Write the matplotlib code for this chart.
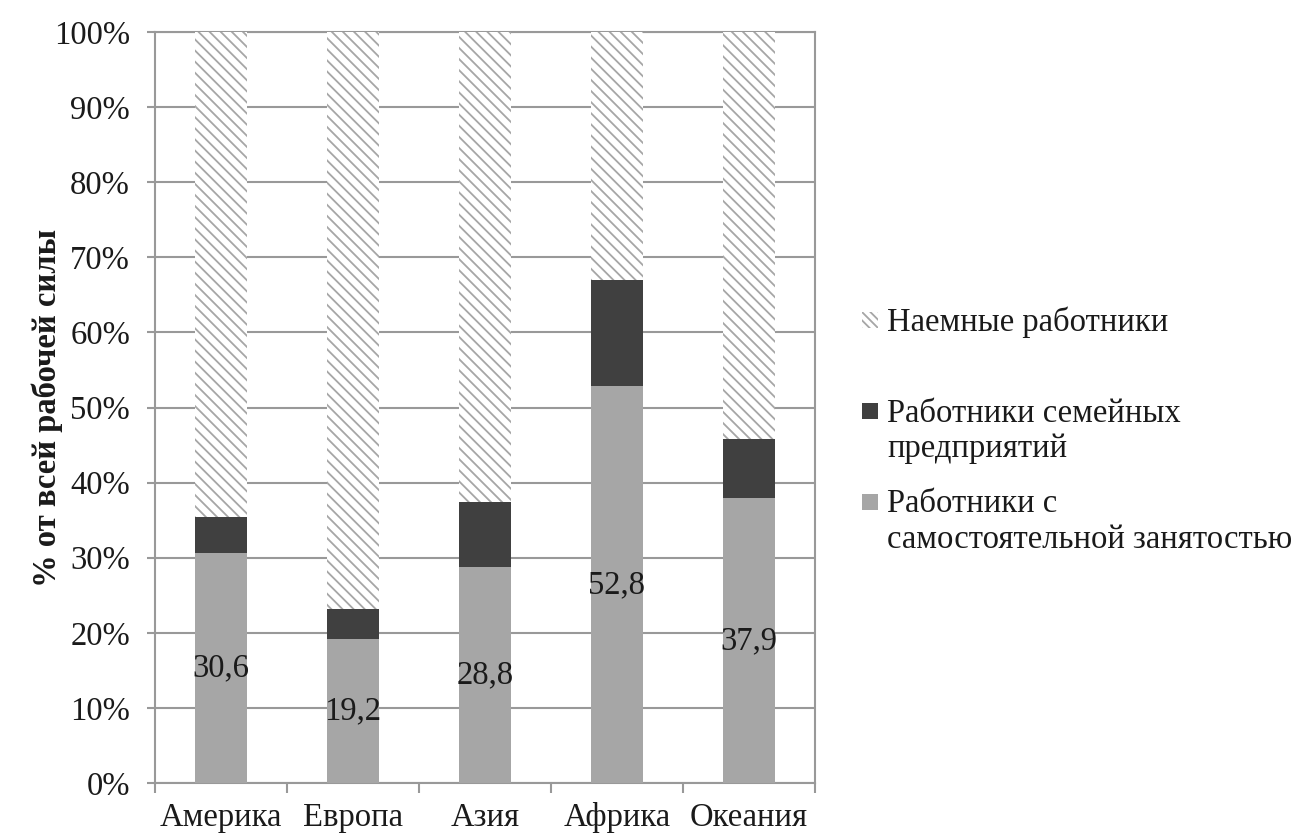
import numpy as np
import matplotlib
matplotlib.use("Agg")
import matplotlib.pyplot as plt
from matplotlib.patches import Rectangle

# Structure of employment by region, % of total labour force
regions = ['Америка', 'Европа', 'Азия', 'Африка', 'Океания']
self_employed = [30.6, 19.2, 28.8, 52.8, 37.9]
family_workers = [4.8, 4.0, 8.6, 14.2, 7.9]
employees = [100 - s - f for s, f in zip(self_employed, family_workers)]

series_names = ['Наемные работники',
                'Работники семейных\nпредприятий',
                'Работники с\nсамостоятельной занятостью']

plt.rcParams['font.family'] = ['Liberation Serif', 'DejaVu Serif']
plt.rcParams['hatch.linewidth'] = 1.3

FS = 23.5
c_self = '#a6a6a6'
c_family = '#404040'
c_hatch = '#a6a6a6'
c_axis = '#999999'
c_text = '#1a1a1a'

fig = plt.figure(figsize=(13.09, 8.39), dpi=100)
ax = fig.add_axes([155 / 1309, 1 - 783 / 839, 660 / 1309, 751 / 839])

x = np.arange(len(regions))
w = 0.39
ax.bar(x, self_employed, w, color=c_self, zorder=3)
ax.bar(x, family_workers, w, bottom=self_employed, color=c_family, zorder=3)
bottom3 = [s + f for s, f in zip(self_employed, family_workers)]
ax.bar(x, employees, w, bottom=bottom3, facecolor='white',
       edgecolor=c_hatch, linewidth=0, hatch='\\\\\\', zorder=3)

# value labels in the middle of the self-employed segment
for xi, v in zip(x, self_employed):
    ax.text(xi, v / 2, f'{v:.1f}'.replace('.', ','), ha='center', va='center',
            fontsize=FS, color=c_text, zorder=4)

ax.set_xlim(-0.5, len(regions) - 0.5)
ax.set_ylim(0, 100)
ax.set_yticks(np.arange(0, 101, 10))
ax.set_yticklabels([f'{t}%' for t in range(0, 101, 10)])
ax.set_xticks(x)
ax.set_xticklabels(regions)
ax.set_xticks(np.arange(-0.5, len(regions), 1), minor=True)

ax.tick_params(axis='y', length=6, width=1.5, color=c_axis, pad=12,
               labelsize=FS, labelcolor=c_text)
ax.tick_params(axis='x', which='major', length=0, pad=14,
               labelsize=FS, labelcolor=c_text)
ax.tick_params(axis='x', which='minor', length=7, width=1.5, color=c_axis)

ax.yaxis.grid(True, color=c_axis, linewidth=1.5, zorder=0)
ax.set_axisbelow(True)
for side in ['left', 'bottom', 'right', 'top']:
    ax.spines[side].set_color(c_axis)
    ax.spines[side].set_linewidth(1.5)

ax.set_ylabel('% от всей рабочей силы', fontsize=FS, fontweight='bold',
              color=c_text)
ax.yaxis.set_label_coords(-0.14, 0.5)

# legend drawn by hand so the swatches line up with the first text line
legend_rows = [
    (series_names[0], dict(facecolor='white', edgecolor=c_hatch, linewidth=0,
                           hatch='\\\\\\\\'), 320),
    (series_names[1], dict(facecolor=c_family, linewidth=0), 411),
    (series_names[2], dict(facecolor=c_self, linewidth=0), 502),
]
H, W = 839, 1309
for label, style, ymid in legend_rows:
    fig.patches.append(Rectangle((862 / W, 1 - (ymid + 8) / H), 16 / W, 16 / H,
                                 transform=fig.transFigure, **style))
    fig.text(887 / W, 1 - (ymid - 13) / H, label, fontsize=FS, va='top',
             ha='left', linespacing=1.2, color=c_text)

fig.savefig('out.png', dpi=100)
